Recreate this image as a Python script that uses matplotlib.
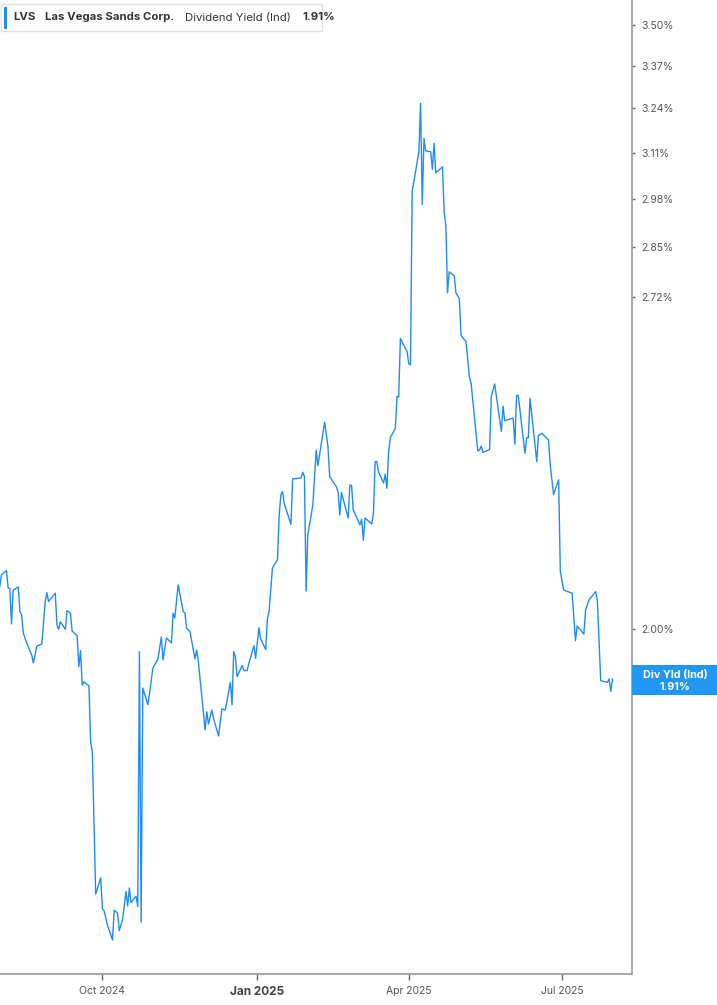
import matplotlib
matplotlib.use("Agg")
import matplotlib.pyplot as plt
from matplotlib.patches import Rectangle
from matplotlib.ticker import NullLocator
import pandas as pd

plt.rcParams['font.family'] = ['Inter', 'DejaVu Sans']

# daily indicated dividend yield (%)
dates = [
    "2024-08-01", "2024-08-02", "2024-08-05", "2024-08-06", "2024-08-07", "2024-08-08", "2024-08-09",
    "2024-08-12", "2024-08-13", "2024-08-14", "2024-08-15", "2024-08-17", "2024-08-20", "2024-08-21",
    "2024-08-23", "2024-08-26", "2024-08-28", "2024-08-29", "2024-08-30",
    "2024-09-03", "2024-09-04", "2024-09-05", "2024-09-06", "2024-09-09", "2024-09-10", "2024-09-12",
    "2024-09-13", "2024-09-16", "2024-09-17", "2024-09-18", "2024-09-19", "2024-09-20", "2024-09-23",
    "2024-09-24", "2024-09-25", "2024-09-27", "2024-09-30",
    "2024-10-01", "2024-10-02", "2024-10-04", "2024-10-07", "2024-10-08", "2024-10-10", "2024-10-11",
    "2024-10-13", "2024-10-15", "2024-10-16", "2024-10-17", "2024-10-18", "2024-10-21", "2024-10-22",
    "2024-10-23", "2024-10-24", "2024-10-25", "2024-10-28", "2024-10-29", "2024-10-31",
    "2024-11-03", "2024-11-05", "2024-11-06", "2024-11-08", "2024-11-11", "2024-11-12", "2024-11-13",
    "2024-11-15", "2024-11-18", "2024-11-19", "2024-11-20", "2024-11-22", "2024-11-25", "2024-11-26",
    "2024-11-27",
    "2024-12-01", "2024-12-02", "2024-12-03", "2024-12-05", "2024-12-06", "2024-12-09", "2024-12-11",
    "2024-12-13", "2024-12-16", "2024-12-17", "2024-12-18", "2024-12-19", "2024-12-20", "2024-12-23",
    "2024-12-24", "2024-12-26", "2024-12-27", "2024-12-30", "2024-12-31",
    "2025-01-02", "2025-01-03", "2025-01-06", "2025-01-07", "2025-01-08", "2025-01-10", "2025-01-13",
    "2025-01-14", "2025-01-15", "2025-01-16", "2025-01-17", "2025-01-21", "2025-01-22", "2025-01-23",
    "2025-01-27", "2025-01-28", "2025-01-29", "2025-01-30", "2025-01-31",
    "2025-02-03", "2025-02-05", "2025-02-06", "2025-02-10", "2025-02-12", "2025-02-13", "2025-02-17",
    "2025-02-18", "2025-02-19", "2025-02-20", "2025-02-24", "2025-02-25", "2025-02-26", "2025-02-27",
    "2025-03-03", "2025-03-04", "2025-03-05", "2025-03-06", "2025-03-10", "2025-03-11", "2025-03-12",
    "2025-03-13", "2025-03-14", "2025-03-17", "2025-03-18", "2025-03-19", "2025-03-20", "2025-03-21",
    "2025-03-24", "2025-03-25", "2025-03-26", "2025-03-27", "2025-03-31",
    "2025-04-01", "2025-04-02", "2025-04-03", "2025-04-07", "2025-04-08", "2025-04-09", "2025-04-10",
    "2025-04-11", "2025-04-14", "2025-04-15", "2025-04-16", "2025-04-17", "2025-04-21", "2025-04-22",
    "2025-04-23", "2025-04-24", "2025-04-25", "2025-04-28", "2025-04-29",
    "2025-05-01", "2025-05-02", "2025-05-05", "2025-05-07", "2025-05-08", "2025-05-12", "2025-05-13",
    "2025-05-14", "2025-05-15", "2025-05-19", "2025-05-20", "2025-05-22", "2025-05-26", "2025-05-27",
    "2025-05-28",
    "2025-06-02", "2025-06-03", "2025-06-04", "2025-06-05", "2025-06-09", "2025-06-10", "2025-06-11",
    "2025-06-12", "2025-06-16", "2025-06-17", "2025-06-19", "2025-06-23", "2025-06-24", "2025-06-26",
    "2025-06-29", "2025-06-30",
    "2025-07-02", "2025-07-07", "2025-07-09", "2025-07-10", "2025-07-14", "2025-07-15", "2025-07-17",
    "2025-07-21", "2025-07-22", "2025-07-24", "2025-07-28", "2025-07-29", "2025-07-30", "2025-07-31",
]
yields = [
    2.080, 2.103, 2.112, 2.078, 2.077, 2.010, 2.074, 2.080, 2.033, 2.027, 1.993, 1.975, 1.953, 1.939,
    1.969, 1.973, 2.052, 2.069, 2.052,
    2.068, 2.008, 2.000, 2.014, 2.000, 2.035, 2.030, 1.997, 1.988, 1.932, 1.961, 1.899, 1.905, 1.898,
    1.802, 1.786, 1.565, 1.589,
    1.544, 1.541, 1.521, 1.500, 1.542, 1.538, 1.513, 1.529, 1.569, 1.548, 1.574, 1.553, 1.562, 1.547,
    1.959, 1.525, 1.894, 1.865, 1.885, 1.930,
    1.946, 1.986, 1.944, 1.984, 1.975, 2.030, 2.021, 2.084, 2.033, 2.031, 2.002, 1.996, 1.946, 1.962,
    1.941,
    1.822, 1.853, 1.832, 1.856, 1.842, 1.812, 1.858, 1.856, 1.904, 1.865, 1.959, 1.950, 1.914, 1.934,
    1.925, 1.925, 1.938, 1.970, 1.947,
    2.003, 1.982, 1.963, 2.020, 2.033, 2.117, 2.133, 2.223, 2.265, 2.272, 2.247, 2.204, 2.299, 2.299,
    2.301, 2.313, 2.304, 2.072, 2.182,
    2.244, 2.361, 2.327, 2.423, 2.368, 2.304, 2.282, 2.271, 2.223, 2.270, 2.217, 2.286, 2.285, 2.234,
    2.203, 2.215, 2.172, 2.217, 2.205, 2.227, 2.336, 2.336, 2.314, 2.290, 2.309, 2.279, 2.357, 2.388,
    2.409, 2.481, 2.480, 2.618, 2.586,
    2.557, 2.555, 2.999, 3.112, 3.255, 2.964, 3.151, 3.115, 3.112, 3.062, 3.137, 3.052, 3.069, 2.944,
    2.908, 2.731, 2.785, 2.774, 2.731,
    2.717, 2.626, 2.610, 2.526, 2.512, 2.359, 2.361, 2.370, 2.356, 2.362, 2.481, 2.510, 2.402, 2.459,
    2.426,
    2.432, 2.374, 2.483, 2.484, 2.354, 2.388, 2.388, 2.477, 2.336, 2.393, 2.398, 2.383, 2.329, 2.266,
    2.297, 2.110,
    2.074, 2.068, 1.979, 2.006, 1.991, 2.036, 2.055, 2.071, 2.054, 1.907, 1.904, 1.910, 1.888, 1.910,
]

ticker = "LVS"
company = "Las Vegas Sands Corp."
metric = "Dividend Yield (Ind)"
tag = "Div Yld (Ind)"
y_ticks = [2.00, 2.72, 2.85, 2.98, 3.11, 3.24, 3.37, 3.50]
x_ticks = ["2024-10-01", "2025-01-01", "2025-04-01", "2025-07-01"]
x_labels = ["Oct 2024", "Jan 2025", "Apr 2025", "Jul 2025"]

W, H = 717, 1005
blue = "#1e8cf3"
axis_grey = "#9a9a9a"


def fx(px):
    return px / W


def fy(py):
    # pixel from top -> figure fraction
    return 1 - py / H


fig = plt.figure(figsize=(W / 100, H / 100), dpi=100)
ax = fig.add_axes([0, 31 / H, 632 / W, 1 - 31 / H])

x = pd.to_datetime(dates)
ax.plot(x, yields, color=blue, lw=1.0)

ax.set_yscale("log")
ax.set_ylim(1.4535, 3.5817)
ax.set_xlim(pd.Timestamp("2024-08-01 04:00"), pd.Timestamp("2025-08-11 14:00"))

ax.yaxis.tick_right()
ax.yaxis.set_minor_locator(NullLocator())
ax.set_yticks(y_ticks)
ax.set_yticklabels([f"{v:.2f}%" for v in y_ticks])
ax.set_xticks(pd.to_datetime(x_ticks))
ax.set_xticklabels(x_labels)
ax.xaxis.set_minor_locator(NullLocator())

for s in ["top", "left"]:
    ax.spines[s].set_visible(False)
for s in ["right", "bottom"]:
    ax.spines[s].set_color(axis_grey)
    ax.spines[s].set_linewidth(1.2)

ax.tick_params(axis="y", direction="out", length=2.5, width=1, color="#666666",
               pad=4.5, labelsize=7.5, labelcolor="#555555")
ax.tick_params(axis="x", direction="out", length=4.5, width=1, color="#666666",
               pad=4, labelsize=7.5, labelcolor="#555555")
for lab in ax.get_xticklabels():
    if lab.get_text() == "Jan 2025":
        lab.set_fontweight("bold")
        lab.set_fontsize(8.5)
        lab.set_color("#444444")

# header legend box
fig.patches.append(Rectangle((fx(1), fy(31)), fx(321), 27 / H, transform=fig.transFigure,
                             facecolor="white", edgecolor="#e2e2e2", lw=1))
fig.patches.append(Rectangle((fx(3.5), fy(29)), fx(3), 22 / H, transform=fig.transFigure,
                             facecolor=blue, edgecolor="none"))
hy = fy(17.5)
fig.text(fx(13), hy, ticker, fontsize=8.2, fontweight="bold", color="#333333", va="center")
fig.text(fx(45), hy, company, fontsize=8.2, fontweight="bold", color="#333333", va="center")
fig.text(fx(185), hy, metric, fontsize=8.2, color="#333333", va="center")
fig.text(fx(302), hy, f"{yields[-1]:.2f}%", fontsize=8.2, fontweight="bold", color="#333333",
         va="center")

# last value tag on the right axis
fig.canvas.draw()
last_py = H - ax.get_yaxis_transform().transform((1.0, yields[-1]))[1]
fig.patches.append(Rectangle((fx(632), fy(last_py + 16)), fx(85), 30 / H,
                             transform=fig.transFigure, facecolor="#2196f3", edgecolor="none"))
fig.text(fx(675), fy(last_py - 4), tag, fontsize=7.8, fontweight="bold", color="white",
         ha="center", va="center")
fig.text(fx(675), fy(last_py + 7.5), f"{yields[-1]:.2f}%", fontsize=7.8, fontweight="bold",
         color="white", ha="center", va="center")

fig.savefig("out.png", dpi=100)
